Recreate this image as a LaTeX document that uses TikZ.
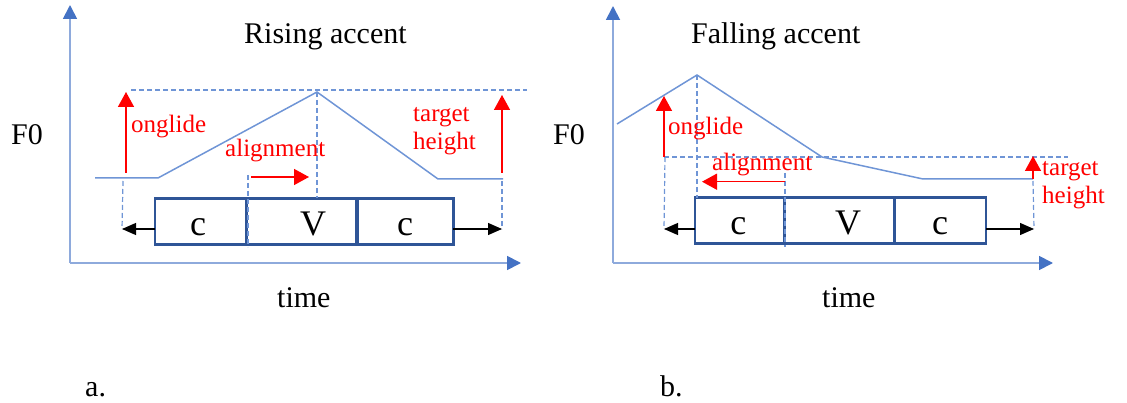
\documentclass[tikz,border=0pt]{standalone}
\usepackage{fontspec}
\setmainfont{Liberation Serif}
\usetikzlibrary{arrows.meta}
\definecolor{axisblue}{HTML}{4472C4}
\definecolor{axisline}{HTML}{8EAADC}
\definecolor{lineblue}{HTML}{6F95D6}
\definecolor{boxblue}{HTML}{2F5597}
\tikzset{
  axis/.style={draw=axisline, line width=1.8pt, -{Triangle[length=14pt,width=14pt,color=axisblue]}},
  contour/.style={draw=lineblue, line width=1.5pt},
  guide/.style={draw=lineblue, line width=1.2pt, dash pattern=on 5pt off 3pt},
  redarrow/.style={draw=red, line width=1.5pt, -{Triangle[length=15pt,width=16pt]}},
  blackarrow/.style={draw=black, line width=1.2pt, -{Triangle[length=14pt,width=12pt]}},
  seg/.style={draw=boxblue, line width=2.5pt, inner sep=0pt, minimum height=46pt},
  letter/.style={font=\fontsize{36}{36}\selectfont, anchor=base, inner sep=0pt},
  bigtext/.style={font=\fontsize{30}{30}\selectfont, anchor=base west, inner sep=0pt},
  redlabel/.style={font=\fontsize{25}{25}\selectfont, text=red, anchor=base west, inner sep=0pt},
}
\begin{document}
\begin{tikzpicture}[x=1pt,y=-1pt]
\useasboundingbox (0,0) rectangle (1127,403);

% ================= LEFT PANEL =================
\coordinate (lO) at (70,263);
\coordinate (lYt) at (70,5);
\coordinate (lXt) at (521,263);
\draw[axis] (lO) -- (lYt);
\draw[axis] (lO) -- (lXt);

\node[bigtext] (ltitle) at (244,43.3) {Rising accent};
\node[bigtext] (lF0) at (11,145) {F0};
\node[bigtext] (ltime) at (277,307.3) {time};
\node[bigtext] (la) at (85,396.7) {a.};

% boxes
\node[seg, minimum width=91.7pt] (lb1) at (200.8,221.7) {};
\node[seg, minimum width=109.3pt] (lb2) at (301.3,221.7) {};
\node[seg, minimum width=95.3pt] (lb3) at (405.7,221.7) {};
\node[letter] (lc1) at (198,235.5) {c};
\node[letter] (lv) at (313,235.5) {V};
\node[letter] (lc2) at (405,235.5) {c};

% contour
\coordinate (lk0) at (95,178);
\coordinate (lk1) at (158,178);
\coordinate (lpk) at (317,92);
\coordinate (lk3) at (438,179);
\coordinate (lk4) at (503,179);
\draw[contour] (lk0) -- (lk1) -- (lpk) -- (lk3) -- (lk4);

% guides
\coordinate (ldh0) at (131,90);
\coordinate (ldh1) at (527,90);
\draw[guide] (ldh0) -- (ldh1);
\coordinate (lpkb) at (317,198);
\draw[guide] (lpk) -- (lpkb);
\coordinate (lg0) at (123,181);
\coordinate (lg1) at (122,229);
\draw[guide] (lg0) -- (lg1);
\coordinate (lr0) at (502,181);
\coordinate (lr1) at (502,229);
\draw[guide] (lr0) -- (lr1);
\coordinate (la0) at (248,175);
\coordinate (la1) at (248,247);
\draw[guide] (la0) -- (la1);

% black arrows
\coordinate (lbl) at (155,229);
\coordinate (lbr) at (453,229);
\draw[blackarrow] (lbl) -- (lg1);
\draw[blackarrow] (lbr) -- (lr1);

% red arrows
\coordinate (lo0) at (126,173);
\coordinate (lo1) at (126,92);
\draw[redarrow] (lo0) -- (lo1);
\coordinate (lt0) at (502,173);
\coordinate (lt1) at (502,95);
\draw[redarrow] (lt0) -- (lt1);
\coordinate (la2) at (251,177);
\coordinate (la3) at (309,177);
\draw[redarrow] (la2) -- (la3);

\node[redlabel] (lon) at (131,132.3) {onglide};
\node[redlabel] (lal) at (225,156.7) {alignment};
\node[redlabel] (ltg) at (413,121.7) {target};
\node[redlabel] (lht) at (413,150) {height};

% ================= RIGHT PANEL =================
\coordinate (rO) at (613,263);
\coordinate (rYt) at (613,6);
\coordinate (rXt) at (1053,263);
\draw[axis] (rO) -- (rYt);
\draw[axis] (rO) -- (rXt);

\node[bigtext] (rtitle) at (691,43.3) {Falling accent};
\node[bigtext] (rF0) at (553,145) {F0};
\node[bigtext] (rtime) at (822,307.7) {time};
\node[bigtext] (rb) at (660,396.7) {b.};

% boxes
\node[seg, minimum width=89.3pt] (rb1) at (739.6,220.5) {};
\node[seg, minimum width=109.7pt] (rb2) at (839.2,220.5) {};
\node[seg, minimum width=91pt] (rb3) at (940.5,220.5) {};
\node[letter] (rc1) at (738.3,234.5) {c};
\node[letter] (rv) at (848,234.5) {V};
\node[letter] (rc2) at (940,234.5) {c};

% contour
\coordinate (rk0) at (617,124);
\coordinate (rpk) at (697,75);
\coordinate (rk2) at (822,157);
\coordinate (rk3) at (923,179);
\coordinate (rk4) at (1033,179);
\draw[contour] (rk0) -- (rpk) -- (rk2) -- (rk3) -- (rk4);

% guides
\coordinate (rdh0) at (664,157);
\coordinate (rdh1) at (1068,157);
\draw[guide] (rdh0) -- (rdh1);
\coordinate (rpkb) at (697,198);
\draw[guide] (rpk) -- (rpkb);
\coordinate (rg0) at (665,157);
\coordinate (rg1) at (664,229);
\draw[guide] (rg0) -- (rg1);
\coordinate (rr0) at (1033,181);
\coordinate (rr1) at (1034,229);
\draw[guide] (rr0) -- (rr1);
\coordinate (ra0) at (785,173);
\coordinate (ra1) at (785,247);
\draw[guide] (ra0) -- (ra1);

% black arrows
\coordinate (rbl) at (695,229);
\coordinate (rbr) at (986,229);
\draw[blackarrow] (rbl) -- (rg1);
\draw[blackarrow] (rbr) -- (rr1);

% red arrows
\coordinate (ro0) at (664,157);
\coordinate (ro1) at (664,96);
\draw[redarrow] (ro0) -- (ro1);
\coordinate (rt0) at (1033,179);
\coordinate (rt1) at (1033,156);
\draw[redarrow] (rt0) -- (rt1);
\coordinate (ra2) at (785,181.7);
\coordinate (ra3) at (702,181.7);
\draw[redarrow] (ra2) -- (ra3);

\node[redlabel] (ron) at (668,135) {onglide};
\node[redlabel] (ral) at (712,170.7) {alignment};
\node[redlabel] (rtg) at (1042,175.5) {target};
\node[redlabel] (rht) at (1042,204) {height};
\end{tikzpicture}
\end{document}
